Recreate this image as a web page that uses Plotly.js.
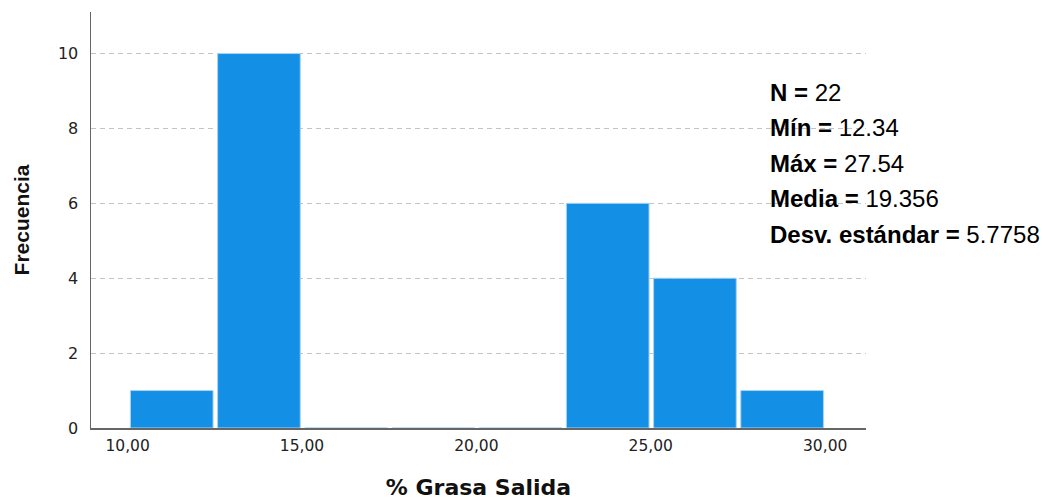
<!DOCTYPE html>
<html>
<head>
<meta charset="utf-8">
<script src="https://cdn.plot.ly/plotly-3.0.1.min.js"></script>
<style>html,body{margin:0;padding:0;background:#fff;}#chart{width:1048px;height:500px;}</style>
</head>
<body>
<div id="chart"></div>
<script>
// Histogram bins (lower edges) and frequencies
var binStarts = [10, 12.5, 15, 17.5, 20, 22.5, 25, 27.5];
var binWidth = 2.5;
var counts = [1, 10, 0, 0, 0, 6, 4, 1];
var xTicks = [10, 15, 20, 25, 30];
var yTicks = [0, 2, 4, 6, 8, 10];
var statLabels = ["N = ", "Mín = ", "Máx = ", "Media = ", "Desv. estándar = "];
var statValues = ["22", "12.34", "27.54", "19.356", "5.7758"];

var arial = "Liberation Sans, Arial, sans-serif";
var wide = "DejaVu Sans, Verdana, sans-serif";

var trace = {
  type: "bar",
  x: binStarts,
  y: counts,
  offset: 0.08,
  width: binWidth - 0.13,
  marker: {color: "#1390e5", line: {color: "#a9d3f3", width: 1}},
  hoverinfo: "x+y"
};

var linePx = [92, 127.5, 163, 198.5, 234];
var annotations = statLabels.map(function (lab, i) {
  return {
    xref: "paper", yref: "paper",
    x: (768 - 91) / 775, y: (428 - linePx[i]) / 416,
    xanchor: "left", yanchor: "middle",
    showarrow: false,
    align: "left",
    text: "<b>" + lab + "</b>" + statValues[i],
    font: {family: arial, size: 24, color: "#000"}
  };
});

var layout = {
  width: 1048, height: 500,
  margin: {l: 91, r: 182, t: 12, b: 72},
  paper_bgcolor: "#fff", plot_bgcolor: "#fff",
  separators: ",.",
  showlegend: false,
  bargap: 0,
  xaxis: {
    range: [8.95, 31.17],
    tickvals: xTicks,
    tickformat: ".2f",
    ticks: "",
    showgrid: false,
    zeroline: false,
    showline: true, linecolor: "#666", linewidth: 1.5,
    tickfont: {family: wide, size: 15.5, color: "#222"},
    ticklabelstandoff: 3,
    title: {text: "<b>% Grasa Salida</b>", font: {family: wide, size: 22, color: "#111"}, standoff: 27}
  },
  yaxis: {
    range: [0, 11.11],
    tickvals: yTicks,
    ticks: "",
    showgrid: true, gridcolor: "#c4c4c4", griddash: "5px,4px", gridwidth: 1,
    zeroline: false,
    showline: true, linecolor: "#666", linewidth: 1.5,
    tickfont: {family: wide, size: 16, color: "#222"},
    ticklabelstandoff: 8,
    title: {text: "<b>Frecuencia</b>", font: {family: arial, size: 21, color: "#111"}, standoff: 22}
  },
  annotations: annotations
};

Plotly.newPlot("chart", [trace], layout, {displayModeBar: false, staticPlot: true});
</script>
</body>
</html>
